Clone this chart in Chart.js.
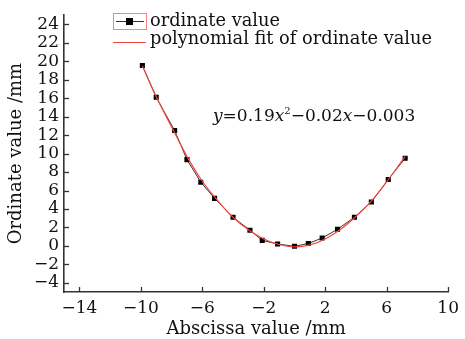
<!DOCTYPE html>
<html>
<head>
<meta charset="utf-8">
<script src="https://cdn.jsdelivr.net/npm/chart.js@4.4.0/dist/chart.umd.min.js"></script>
<style>
  html, body { margin: 0; padding: 0; background: #fff; }
</style>
</head>
<body>
<canvas id="diagram" width="465" height="339"></canvas>
<script>
    // values
    var abscissa = [-9.9, -9.0, -7.8, -7.0, -6.1, -5.2, -4.0, -2.9, -2.1, -1.1, 0.0, 0.9, 1.8, 2.8, 3.9, 5.0, 6.1, 7.2];
    var ordinate = [19.55, 16.1, 12.5, 9.35, 6.9, 5.15, 3.1, 1.7, 0.6, 0.2, -0.05, 0.26, 0.85, 1.8, 3.1, 4.75, 7.2, 9.5];
    var fitAbscissa = [-9.9, -9.0, -8.0, -7.0, -6.0, -5.0, -4.0, -3.0, -2.0, -1.0, 0.0, 1.0, 2.0, 3.0, 4.0, 5.0, 6.0, 7.2];
    var fitOrdinate = [19.5, 16.2, 12.9, 9.7, 7.0, 4.9, 3.1, 1.75, 0.75, 0.15, -0.1, 0.1, 0.75, 1.8, 3.2, 4.85, 6.95, 9.7];
    var xTicks = [-14, -10, -6, -2, 2, 6, 10];
    var yTicks = [-4, -2, 0, 2, 4, 6, 8, 10, 12, 14, 16, 18, 20, 22, 24];

    var serif = "'DejaVu Serif', 'Liberation Serif', serif";
    var axisColour = '#333';
    var fitColour = '#f2453d';

    function toPoints(xs, ys) {
        var pts = [];
        for (var i = 0; i < xs.length; i++) {
            pts.push({x: xs[i], y: ys[i]});
        }
        return pts;
    }

    function minusSign(v) {
        return String(v).replace('-', '\u2212');
    }

    // tick marks pointing into the plot
    var innerTicks = {
        id: 'innerTicks',
        afterDraw: function(chart) {
            var ctx = chart.ctx;
            var a = chart.chartArea;
            var xs = chart.scales.x, ys = chart.scales.y;
            ctx.save();
            ctx.strokeStyle = axisColour;
            ctx.lineWidth = 1.3;
            xs.ticks.forEach(function(t) {
                var px = Math.round(xs.getPixelForValue(t.value)) + 0.5;
                ctx.beginPath();
                ctx.moveTo(px, a.bottom);
                ctx.lineTo(px, a.bottom - 5);
                ctx.stroke();
            });
            ys.ticks.forEach(function(t) {
                var py = Math.round(ys.getPixelForValue(t.value)) + 0.5;
                ctx.beginPath();
                ctx.moveTo(a.left, py);
                ctx.lineTo(a.left + 5, py);
                ctx.stroke();
            });
            ctx.restore();
        }
    };

    // legend and fitted equation
    var notes = {
        id: 'notes',
        afterDraw: function(chart) {
            var ctx = chart.ctx;
            var ds = chart.data.datasets;
            ctx.save();
            ctx.font = '17.8px ' + serif;
            ctx.fillStyle = '#111';
            ctx.textBaseline = 'alphabetic';

            // entry 1: line with square marker inside a light red frame
            ctx.strokeStyle = '#f08a80';
            ctx.lineWidth = 1;
            ctx.strokeRect(113.5, 13.5, 33, 16);
            ctx.strokeStyle = ds[1].borderColor;
            ctx.beginPath();
            ctx.moveTo(116, 21.5);
            ctx.lineTo(144, 21.5);
            ctx.stroke();
            ctx.fillStyle = ds[1].pointBackgroundColor;
            ctx.fillRect(126, 18, 7, 7);
            ctx.fillStyle = '#111';
            ctx.fillText(ds[1].label, 150, 26);

            // entry 2: red line
            ctx.strokeStyle = ds[0].borderColor;
            ctx.beginPath();
            ctx.moveTo(113, 42.5);
            ctx.lineTo(146, 42.5);
            ctx.stroke();
            ctx.fillText(ds[0].label, 150, 44);

            // equation
            var parts = [
                ['y', 'italic 17px ', 0],
                ['=0.19', '17px ', 0],
                ['x', 'italic 17px ', 0],
                ['2', '10px ', -7],
                ['\u22120.02', '17px ', 0],
                ['x', 'italic 17px ', 0],
                ['\u22120.003', '17px ', 0]
            ];
            var x = 213;
            parts.forEach(function(p) {
                ctx.font = p[1] + serif;
                ctx.fillText(p[0], x, 121 + p[2]);
                x += ctx.measureText(p[0]).width;
            });
            ctx.restore();
        }
    };

    var chart = new Chart(document.getElementById('diagram'), {
        type: 'scatter',
        data: {
            datasets: [
                {
                    label: 'polynomial fit of ordinate value',
                    data: toPoints(fitAbscissa, fitOrdinate),
                    showLine: true,
                    borderColor: fitColour,
                    borderWidth: 1.2,
                    pointRadius: 0,
                    tension: 0.4
                },
                {
                    label: 'ordinate value',
                    data: toPoints(abscissa, ordinate),
                    showLine: true,
                    borderColor: '#333',
                    borderWidth: 1,
                    pointStyle: 'rect',
                    pointRadius: 3.6,
                    pointBackgroundColor: '#000',
                    pointBorderColor: '#000',
                    pointBorderWidth: 0
                }
            ]
        },
        options: {
            responsive: false,
            animation: false,
            layout: { padding: { top: 7, right: 11, left: 0, bottom: 0 } },
            plugins: {
                legend: { display: false },
                tooltip: { enabled: false }
            },
            scales: {
                x: {
                    type: 'linear',
                    min: -15,
                    max: 10,
                    afterBuildTicks: function(scale) {
                        scale.ticks = xTicks.map(function(v) { return {value: v}; });
                    },
                    afterFit: function(scale) { scale.height = 47; },
                    grid: { display: true, drawOnChartArea: false, drawTicks: false },
                    border: { display: true, color: axisColour, width: 1.6 },
                    ticks: {
                        autoSkip: false,
                        color: '#111',
                        padding: 6,
                        maxRotation: 0,
                        font: { family: serif, size: 17 },
                        callback: function(v) { return minusSign(v); }
                    },
                    title: {
                        display: true,
                        text: 'Abscissa value /mm',
                        color: '#111',
                        font: { family: serif, size: 18 },
                        padding: { top: 0, bottom: -1 }
                    }
                },
                y: {
                    min: -5,
                    max: 25,
                    afterBuildTicks: function(scale) {
                        scale.ticks = yTicks.map(function(v) { return {value: v}; });
                    },
                    afterFit: function(scale) { scale.width = 64; },
                    grid: { display: true, drawOnChartArea: false, drawTicks: false },
                    border: { display: true, color: axisColour, width: 1.6 },
                    ticks: {
                        autoSkip: false,
                        color: '#111',
                        padding: 5,
                        font: { family: serif, size: 17 },
                        callback: function(v) { return minusSign(v); }
                    },
                    title: {
                        display: true,
                        text: 'Ordinate value /mm',
                        color: '#111',
                        font: { family: serif, size: 18 },
                        padding: { top: 6, bottom: 0 }
                    }
                }
            }
        },
        plugins: [innerTicks, notes]
    });
</script>
</body>
</html>
